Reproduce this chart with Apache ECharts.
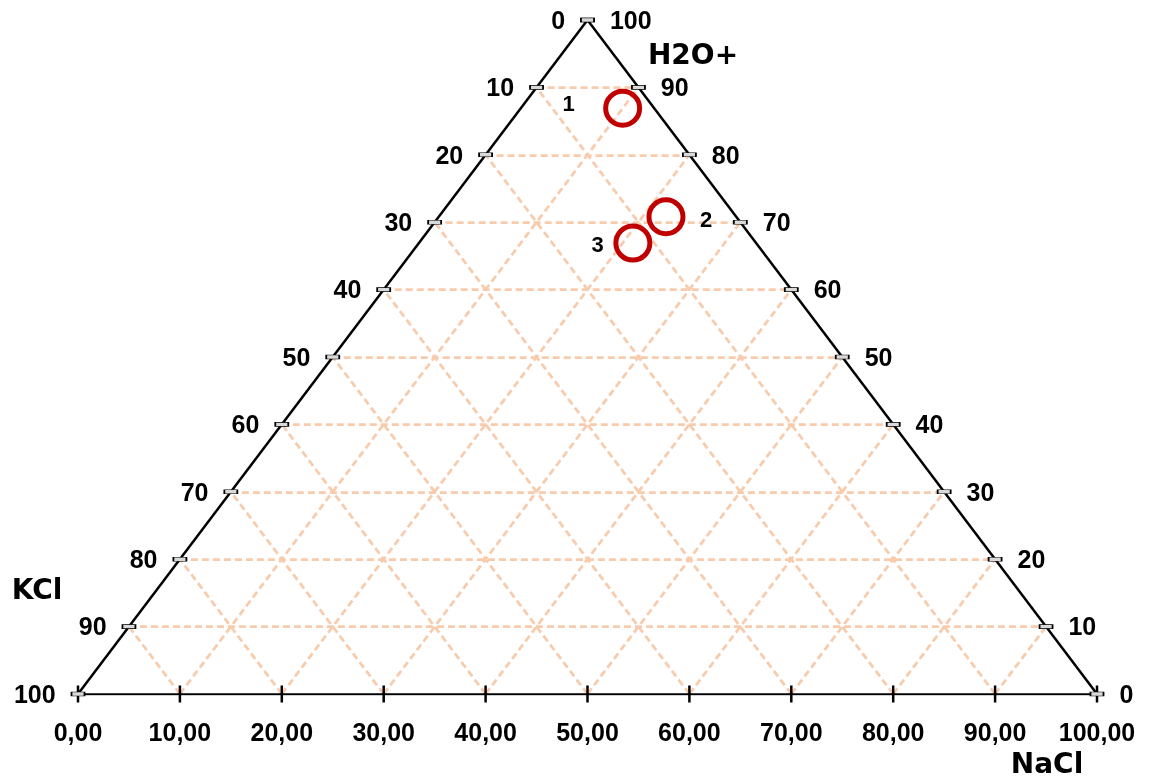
<!DOCTYPE html>
<html><head><meta charset="utf-8">
<script src="https://cdn.jsdelivr.net/npm/echarts@6/dist/echarts.min.js"></script>
<style>html,body{margin:0;padding:0;background:#fff}#c{width:1152px;height:779px}</style>
</head><body><div id="c"></div>
<script>
// ---- data ----
const ticks = [0, 10, 20, 30, 40, 50, 60, 70, 80, 90, 100];
const pointNames = ['1', '2', '3'];
const h2o  = [86.9, 70.8, 66.9];
const nacl = [10.0, 22.3, 21.0];
const kcl  = [3.1, 6.9, 12.1];
const titleTop = 'H2O+';
const titleLeft = 'KCl';
const titleBottom = 'NaCl';

// ternary (NaCl, KCl, H2O) -> cartesian (x along NaCl axis, y = H2O)
function toXY(n, k, h) {
  const s = n + k + h;
  n = n / s * 100; h = h / s * 100;
  return [n + h / 2, h];
}

const inner = ticks.filter(t => t > 0 && t < 100);
const gridLines = [];
inner.forEach(t => {
  gridLines.push({coords: [toXY(0, 100 - t, t), toXY(100 - t, 0, t)]});
  gridLines.push({coords: [toXY(t, 100 - t, 0), toXY(t, 0, 100 - t)]});
  gridLines.push({coords: [toXY(100 - t, t, 0), toXY(0, t, 100 - t)]});
});
const edges = [
  {coords: [toXY(0, 100, 0), toXY(100, 0, 0)]},
  {coords: [toXY(100, 0, 0), toXY(0, 0, 100)]},
  {coords: [toXY(0, 0, 100), toXY(0, 100, 0)]}
];
const leftBoxes = ticks.map(h => toXY(0, 100 - h, h).concat([String(100 - h)]));
const rightBoxes = ticks.map(h => toXY(100 - h, 0, h).concat([String(h)]));
const bottomTicks = ticks.map(n => toXY(n, 100 - n, 0));
const pointXY = pointNames.map((nm, i) => toXY(nacl[i], kcl[i], h2o[i]));

const tickFont = {fontFamily: 'Liberation Sans', fontWeight: 'bold', fontSize: 25, color: '#000'};
const pointFont = {fontFamily: 'Liberation Sans', fontWeight: 'bold', fontSize: 22, color: '#000'};

const chart = echarts.init(document.getElementById('c'));
chart.setOption({
  animation: false,
  backgroundColor: '#fff',
  grid: {left: 78, right: 55, top: 20, bottom: 85},
  xAxis: {
    type: 'value', min: 0, max: 100, interval: 10,
    axisLine: {show: false},
    axisTick: {show: false},
    splitLine: {show: false},
    axisLabel: Object.assign({margin: 28, formatter: v => v.toFixed(2).replace('.', ',')}, tickFont)
  },
  yAxis: {
    type: 'value', min: 0, max: 100, show: false
  },
  series: [
    {
      type: 'lines', coordinateSystem: 'cartesian2d', z: 1, silent: true,
      lineStyle: {color: '#f8cbad', width: 2.75, type: [7, 4], opacity: 1},
      data: gridLines
    },
    {
      type: 'lines', coordinateSystem: 'cartesian2d', z: 2, silent: true,
      lineStyle: {color: '#000', width: 2.5, type: 'solid', opacity: 1},
      data: edges
    },
    {
      type: 'scatter', z: 3, silent: true,
      symbol: 'rect', symbolSize: [2.5, 17],
      itemStyle: {color: '#000', opacity: 1},
      data: bottomTicks
    },
    {
      type: 'scatter', z: 4, silent: true,
      symbol: 'rect', symbolSize: [13, 4],
      itemStyle: {color: '#d9d9d9', borderColor: '#000', borderWidth: 1, opacity: 1},
      label: Object.assign({show: true, position: 'left', distance: 15, offset: [0, 2], formatter: p => p.value[2]}, tickFont),
      data: leftBoxes
    },
    {
      type: 'scatter', z: 4, silent: true,
      symbol: 'rect', symbolSize: [13, 4],
      itemStyle: {color: '#d9d9d9', borderColor: '#000', borderWidth: 1, opacity: 1},
      label: Object.assign({show: true, position: 'right', distance: 15, offset: [0, 2], formatter: p => p.value[2]}, tickFont),
      data: rightBoxes
    },
    {
      // point markers
      type: 'scatter', z: 5, silent: true,
      symbol: 'circle', symbolSize: 34,
      itemStyle: {color: 'rgba(0,0,0,0)', borderColor: '#c00000', borderWidth: 5, opacity: 1},
      data: pointXY
    },
    {
      // point number labels, placed left/right of each marker
      type: 'scatter', z: 6, silent: true,
      symbolSize: 0,
      itemStyle: {opacity: 1},
      label: Object.assign({show: true, formatter: p => p.name}, pointFont),
      data: pointNames.map((nm, i) => ({
        name: nm, value: pointXY[i],
        label: {position: i === 1 ? 'right' : 'left', distance: [48, 34, 29][i], offset: [0, [-3, 4, 3][i]]}
      }))
    }
  ],
  graphic: [
    {type: 'text', x: 693, y: 57, style: {text: titleTop, font: 'bold 28px "DejaVu Sans"', fill: '#000', textAlign: 'center', textVerticalAlign: 'middle'}},
    {type: 'text', x: 37, y: 592, style: {text: titleLeft, font: 'bold 28px "DejaVu Sans"', fill: '#000', textAlign: 'center', textVerticalAlign: 'middle'}},
    {type: 'text', x: 1047, y: 766, style: {text: titleBottom, font: 'bold 28px "DejaVu Sans"', fill: '#000', textAlign: 'center', textVerticalAlign: 'middle'}}
  ]
});
</script></body></html>
